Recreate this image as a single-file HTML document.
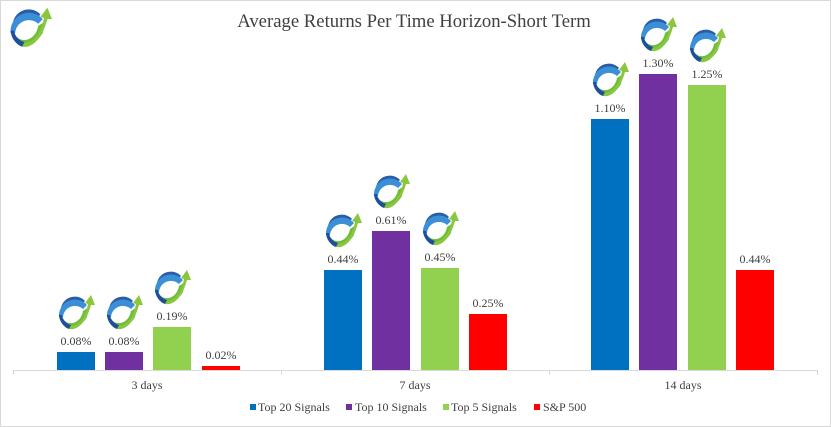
<!DOCTYPE html>
<html><head><style>body{margin:0;background:#fff}svg{display:block}</style></head><body>
<svg width="831" height="427" viewBox="0 0 831 427" xmlns="http://www.w3.org/2000/svg" font-family="Liberation Serif, serif">
<defs>
<g id="lg">
<path d="M6,22 A14,14 0 0 1 30,10 L26,14 A11,11 0 0 0 9,22 Z" fill="#2a5da8"/>
<path d="M4,26 A16,16 0 0 1 32,14 L28,18 A12,12 0 0 0 8,26 Z" fill="#3b8fd6"/>
<path d="M6,30 C10,40 24,40 32,26 L34,16 L28,20 C26,32 14,36 8,28 Z" fill="#6cbf3a"/>
<path d="M10,36 C18,42 30,36 36,14 L40,14 L36,4 L30,12 L33,13 C30,30 20,38 10,34 Z" fill="#8cc63f"/>
<path d="M4,24 A16,16 0 0 0 14,38 L16,34 A12,12 0 0 1 7,24 Z" fill="#1e4f9c"/>
</g>
</defs>
<rect x="0.5" y="0.5" width="830" height="426" fill="#fff" stroke="#d9d9d9"/>
<use href="#lg" x="6" y="3" transform="translate(6,3) scale(1.15) translate(-6,-3)"/>
<text x="414" y="27" text-anchor="middle" font-size="18.7" fill="#404040">Average Returns Per Time Horizon-Short Term</text>
<line x1="13" y1="370.5" x2="817" y2="370.5" stroke="#d9d9d9"/>
<g stroke="#d9d9d9"><line x1="13.5" y1="370" x2="13.5" y2="375"/><line x1="281.5" y1="370" x2="281.5" y2="375"/><line x1="549.5" y1="370" x2="549.5" y2="375"/><line x1="817.5" y1="370" x2="817.5" y2="375"/></g>
<g>
<rect x="57" y="352" width="38" height="18" fill="#0070c0"/>
<rect x="105" y="352" width="38" height="18" fill="#7030a0"/>
<rect x="153" y="327" width="38" height="43" fill="#92d050"/>
<rect x="202" y="366" width="38" height="4" fill="#ff0000"/>
<rect x="324" y="270" width="38" height="100" fill="#0070c0"/>
<rect x="372" y="231" width="38" height="139" fill="#7030a0"/>
<rect x="421" y="268" width="38" height="102" fill="#92d050"/>
<rect x="469" y="314" width="38" height="56" fill="#ff0000"/>
<rect x="591" y="119" width="38" height="251" fill="#0070c0"/>
<rect x="639" y="74" width="38" height="296" fill="#7030a0"/>
<rect x="688" y="85" width="38" height="285" fill="#92d050"/>
<rect x="736" y="270" width="38" height="100" fill="#ff0000"/>
</g>
<g font-size="12" fill="#404040" text-anchor="middle">
<text x="76" y="345">0.08%</text><text x="124" y="345">0.08%</text><text x="172" y="320">0.19%</text><text x="221" y="359">0.02%</text>
<text x="343" y="263">0.44%</text><text x="391" y="224">0.61%</text><text x="440" y="261">0.45%</text><text x="488" y="307">0.25%</text>
<text x="610" y="112">1.10%</text><text x="658" y="67">1.30%</text><text x="707" y="78">1.25%</text><text x="755" y="263">0.44%</text>
</g>
<use href="#lg" x="55" y="291"/><use href="#lg" x="103" y="291"/><use href="#lg" x="151" y="266"/>
<use href="#lg" x="322" y="209"/><use href="#lg" x="370" y="170"/><use href="#lg" x="419" y="207"/>
<use href="#lg" x="589" y="58"/><use href="#lg" x="637" y="13"/><use href="#lg" x="686" y="24"/>
<g font-size="12" fill="#404040" text-anchor="middle">
<text x="147" y="389">3 days</text><text x="415" y="389">7 days</text><text x="683" y="389">14 days</text>
</g>
<g font-size="12" fill="#404040">
<rect x="250" y="404" width="6" height="6" fill="#0070c0"/><text x="258" y="411">Top 20 Signals</text>
<rect x="346" y="404" width="6" height="6" fill="#7030a0"/><text x="355" y="411">Top 10 Signals</text>
<rect x="443" y="404" width="6" height="6" fill="#92d050"/><text x="451" y="411">Top 5 Signals</text>
<rect x="534" y="404" width="6" height="6" fill="#ff0000"/><text x="543" y="411">S&amp;P 500</text>
</g>
</svg>
</body></html>
